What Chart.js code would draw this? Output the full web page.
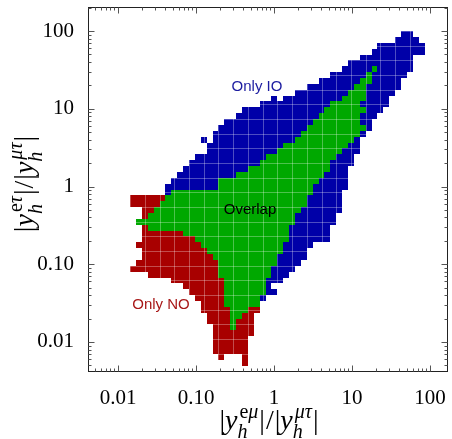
<!DOCTYPE html>
<html>
<head>
<meta charset="utf-8">
<script src="https://cdn.jsdelivr.net/npm/chart.js@4.4.1/dist/chart.umd.min.js"></script>
<style>
  html, body { margin: 0; padding: 0; background: #fff; }
</style>
</head>
<body>
<canvas id="chart" width="452" height="439"></canvas>
<script>
(function () {
  "use strict";

  // tick values / labels (both axes)
  const tickValues = [0.01, 0.1, 1, 10, 100];
  const tickLabels = ["0.01", "0.10", "1", "10", "100"];

  // binning of the scan, in log10 units
  const binStartX = -1.845;  // log10 of left edge of column 0
  const binStartY = 2.0;     // log10 of top edge of row 0
  const binSize = 0.0755;

  // cells as runs: [row, firstColumn, lastColumn]
  const onlyIO = [
    [0, 46, 47], [1, 45, 48], [2, 42, 49], [3, 41, 49], [4, 39, 47], [5, 37, 47],
    [6, 36, 40], [6, 42, 47], [7, 34, 39], [7, 41, 46], [8, 32, 38], [8, 41, 45],
    [9, 30, 37], [9, 40, 45], [10, 28, 36], [10, 40, 44],
    [11, 24, 24], [11, 26, 35], [11, 40, 43], [12, 22, 33], [12, 39, 43],
    [13, 19, 32], [13, 40, 42], [14, 18, 31], [14, 39, 41], [15, 16, 30], [15, 39, 40],
    [16, 15, 29], [16, 40, 40], [17, 14, 28], [17, 39, 39],
    [18, 12, 12], [18, 14, 27], [18, 38, 38], [19, 13, 25], [19, 37, 38],
    [20, 13, 24], [20, 36, 38], [21, 11, 22], [21, 35, 37], [22, 10, 21], [22, 34, 37],
    [23, 9, 19], [23, 34, 36], [24, 8, 17], [24, 33, 36], [25, 7, 14], [25, 32, 36],
    [26, 6, 14], [26, 31, 36], [27, 6, 6], [27, 31, 35],
    [28, 30, 35], [29, 30, 35], [30, 29, 35], [31, 28, 34], [32, 28, 34],
    [33, 27, 33], [34, 27, 33], [35, 27, 33], [36, 26, 30], [37, 26, 29], [38, 25, 29],
    [39, 25, 28], [40, 24, 27], [41, 24, 26], [42, 23, 25], [43, 23, 23], [44, 23, 24],
    [45, 22, 22]
  ];

  const overlap = [
    [6, 41, 41], [7, 40, 40], [8, 39, 40], [9, 38, 39], [10, 37, 39], [11, 36, 39],
    [12, 34, 38], [13, 33, 39], [14, 32, 38], [15, 31, 38], [16, 30, 39], [17, 29, 38],
    [18, 28, 37], [19, 26, 36], [20, 25, 35], [21, 23, 34], [22, 22, 33], [23, 20, 33],
    [24, 18, 32], [25, 15, 31], [26, 15, 30], [27, 7, 30], [28, 6, 29], [29, 5, 29],
    [30, 4, 28], [31, 3, 27], [32, 1, 27], [33, 3, 26], [34, 9, 26], [35, 11, 26],
    [36, 12, 25], [37, 13, 25], [38, 14, 24], [39, 15, 24], [40, 15, 23], [41, 15, 23],
    [42, 16, 22], [43, 16, 22], [44, 16, 22], [45, 16, 21], [46, 16, 21],
    [47, 17, 19], [48, 17, 18], [49, 17, 17], [50, 17, 17]
  ];

  const onlyNO = [
    [28, 0, 5], [29, 0, 4], [30, 2, 3], [31, 2, 2], [33, 2, 2], [34, 2, 8], [35, 2, 10],
    [36, 1, 11], [37, 2, 12], [38, 2, 13], [39, 1, 14], [40, 0, 14], [41, 3, 14],
    [42, 7, 15], [43, 9, 15], [44, 10, 15], [45, 11, 15], [46, 12, 15],
    [47, 12, 16], [47, 20, 21], [48, 13, 16], [48, 19, 20], [49, 13, 16], [49, 18, 20],
    [50, 14, 16], [50, 18, 20], [51, 14, 20], [52, 14, 19], [53, 14, 19], [54, 14, 19],
    [55, 15, 15], [55, 19, 19], [56, 19, 19]
  ];

  const BLUE = "#0000a8";
  const GREEN = "#00a800";
  const RED = "#a80000";
  const SERIF = "'Liberation Serif', 'Times New Roman', serif";
  const SANS = "'Liberation Sans', Arial, sans-serif";

  // one point per cell (cell centre), the plugin fills the whole bin
  function cellsFromRuns(runs) {
    const pts = [];
    runs.forEach(([row, c0, c1]) => {
      for (let c = c0; c <= c1; c++) {
        pts.push({
          x: Math.pow(10, binStartX + (c + 0.5) * binSize),
          y: Math.pow(10, binStartY - (row + 0.5) * binSize)
        });
      }
    });
    return pts;
  }

  function labelFor(value) {
    const i = tickValues.findIndex(v => Math.abs(Math.log10(v) - Math.log10(value)) < 1e-6);
    return i >= 0 ? tickLabels[i] : "";
  }

  const cellPlugin = {
    id: "cells",
    beforeDatasetsDraw(chart) {
      const { ctx, chartArea: area } = chart;
      const xs = chart.scales.x, ys = chart.scales.y;
      const half = binSize / 2;
      ctx.save();
      ctx.beginPath();
      ctx.rect(area.left, area.top, area.width, area.height);
      ctx.clip();
      chart.data.datasets.forEach(ds => {
        ctx.fillStyle = ds.cellColor;
        ds.data.forEach(p => {
          const lx = Math.log10(p.x), ly = Math.log10(p.y);
          const x0 = Math.round(xs.getPixelForValue(Math.pow(10, lx - half)));
          const x1 = Math.round(xs.getPixelForValue(Math.pow(10, lx + half)));
          const y0 = Math.round(ys.getPixelForValue(Math.pow(10, ly + half)));
          const y1 = Math.round(ys.getPixelForValue(Math.pow(10, ly - half)));
          ctx.fillRect(x0, y0, x1 - x0, y1 - y0);
        });
      });

      // faint mesh lines over the cells
      ctx.strokeStyle = "rgba(255,255,255,0.3)";
      ctx.lineWidth = 1;
      for (let k = 0; k <= 50; k += 2.5) {
        const px = Math.round(xs.getPixelForValue(Math.pow(10, binStartX + k * binSize))) + 0.5;
        ctx.beginPath();
        ctx.moveTo(px, area.top);
        ctx.lineTo(px, area.bottom);
        ctx.stroke();
      }
      for (let k = 0; k <= 57; k += 2.5) {
        const py = Math.round(ys.getPixelForValue(Math.pow(10, binStartY - k * binSize))) + 0.5;
        ctx.beginPath();
        ctx.moveTo(area.left, py);
        ctx.lineTo(area.right, py);
        ctx.stroke();
      }

      // region labels
      ctx.font = "15px " + SANS;
      ctx.textAlign = "center";
      ctx.textBaseline = "alphabetic";
      ctx.fillStyle = "#1c1ca0";
      ctx.fillText("Only IO", 257, 91);
      ctx.fillStyle = "#000";
      ctx.fillText("Overlap", 250, 214);
      ctx.fillStyle = "#a81818";
      ctx.fillText("Only NO", 161, 309);
      ctx.restore();
    }
  };

  // |y_h^{sup}| / |y_h^{mu tau}| drawn piece by piece, centred on 0, baseline at 0
  function drawRatio(ctx, sup) {
    const big = 28, small = 20;
    const f = (size, it) => (it ? "italic " : "") + size + "px " + SERIF;
    const pieces = [
      { t: "|", font: f(big) },
      { t: "y", font: f(big, true) },
      { script: sup, sub: "h" },
      { t: "|", font: f(big), pre: 1 },
      { t: "/", font: f(big), pre: 1 },
      { t: "|", font: f(big), pre: 1 },
      { t: "y", font: f(big, true) },
      { script: [["μ", true], ["τ", true]], sub: "h" },
      { t: "|", font: f(big), pre: 1 }
    ];
    function widthOf(p) {
      if (p.script) {
        let w = 2;
        p.script.forEach(([s, it]) => { ctx.font = f(small, it); w += ctx.measureText(s).width; });
        ctx.font = f(small, true);
        return Math.max(w, ctx.measureText(p.sub).width);
      }
      ctx.font = p.font;
      return ctx.measureText(p.t).width + (p.pre || 0);
    }
    const total = pieces.reduce((s, p) => s + widthOf(p), 0);
    let x = -total / 2;
    ctx.textAlign = "left";
    ctx.textBaseline = "alphabetic";
    pieces.forEach(p => {
      const w = widthOf(p);
      if (p.script) {
        let sx = x + 2;
        p.script.forEach(([s, it]) => {
          ctx.font = f(small, it);
          ctx.fillText(s, sx, -11);
          sx += ctx.measureText(s).width;
        });
        ctx.font = f(small, true);
        ctx.fillText(p.sub, x, 9);
      } else {
        ctx.font = p.font;
        ctx.fillText(p.t, x + (p.pre || 0), 0);
      }
      x += w;
    });
  }

  const framePlugin = {
    id: "frame",
    afterDraw(chart) {
      const { ctx, chartArea: a } = chart;
      const xs = chart.scales.x, ys = chart.scales.y;
      ctx.save();
      ctx.strokeStyle = "#222";
      ctx.lineWidth = 1;
      const L = Math.round(a.left) + 0.5, R = Math.round(a.right) - 0.5;
      const T = Math.round(a.top) + 0.5, B = Math.round(a.bottom) - 0.5;
      ctx.strokeRect(L, T, R - L, B - T);

      const minorVals = [];
      for (let e = -3; e <= 2; e++) {
        for (let m = 1; m <= 9; m++) minorVals.push({ v: m * Math.pow(10, e), major: m === 1 });
      }
      ctx.strokeStyle = "#555";
      ctx.beginPath();
      minorVals.forEach(({ v, major }) => {
        const len = major ? 6 : 3;
        if (v >= xs.min && v <= xs.max) {
          const px = Math.round(xs.getPixelForValue(v)) + 0.5;
          ctx.moveTo(px, B); ctx.lineTo(px, B - len);
          ctx.moveTo(px, T); ctx.lineTo(px, T + len);
        }
        if (v >= ys.min && v <= ys.max) {
          const py = Math.round(ys.getPixelForValue(v)) + 0.5;
          ctx.moveTo(L, py); ctx.lineTo(L + len, py);
          ctx.moveTo(R, py); ctx.lineTo(R - len, py);
        }
      });
      ctx.stroke();

      ctx.fillStyle = "#000";
      ctx.save();
      ctx.translate(269, 429);
      drawRatio(ctx, [["e", false], ["μ", true]]);
      ctx.restore();

      ctx.save();
      ctx.translate(33, 184);
      ctx.rotate(-Math.PI / 2);
      drawRatio(ctx, [["e", false], ["τ", true]]);
      ctx.restore();
      ctx.restore();
    }
  };

  function axis(min, max, isX) {
    return {
      type: "logarithmic",
      min: min,
      max: max,
      grid: { display: false },
      border: { display: false },
      afterBuildTicks(scale) {
        scale.ticks = tickValues.map(v => ({ value: v }));
      },
      afterFit(scale) {
        if (isX) scale.height = 67; else scale.width = 88;
        // no extra room for the end labels, the frame sets the plot box
        scale.paddingTop = 0;
        scale.paddingBottom = 0;
        scale.paddingLeft = 0;
        scale.paddingRight = 0;
      },
      ticks: {
        autoSkip: false,
        maxRotation: 0,
        padding: 6,
        color: "#000",
        font: { family: SERIF, size: 21 },
        callback: value => labelFor(value)
      }
    };
  }

  new Chart(document.getElementById("chart"), {
    type: "scatter",
    data: {
      datasets: [
        { label: "Only IO", data: cellsFromRuns(onlyIO), cellColor: BLUE, pointRadius: 0 },
        { label: "Overlap", data: cellsFromRuns(overlap), cellColor: GREEN, pointRadius: 0 },
        { label: "Only NO", data: cellsFromRuns(onlyNO), cellColor: RED, pointRadius: 0 }
      ]
    },
    options: {
      responsive: false,
      animation: false,
      layout: { padding: { top: 7, right: 4, left: 0, bottom: 0 } },
      plugins: { legend: { display: false }, tooltip: { enabled: false } },
      scales: {
        x: axis(0.00412, 170, true),
        y: axis(0.00411, 204, false)
      }
    },
    plugins: [cellPlugin, framePlugin]
  });
})();
</script>
</body>
</html>
